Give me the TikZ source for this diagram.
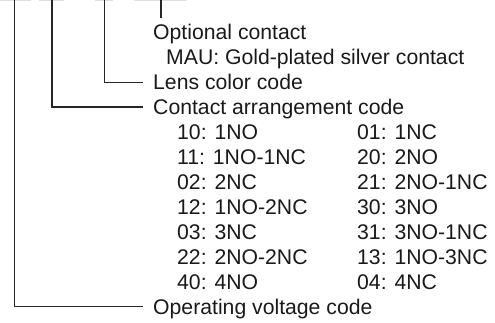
\documentclass[tikz,border=0pt]{standalone}
\usepackage{fontspec}
\setmainfont{Liberation Sans}
\begin{document}
\begin{tikzpicture}[x=1pt,y=-1pt,
  txt/.style={anchor=base west,inner sep=0pt,font=\fontsize{21.2}{25}\selectfont,text=black!90},
  lead/.style={line width=1.3pt,draw=black!85},
  stub/.style={line width=1.5pt,draw=black!12}]
\useasboundingbox (0,0) rectangle (495,323);
% faint remnants of the boxes above
\draw[stub] (0,0.7) -- (31,0.7);
\draw[stub] (39,0.7) -- (64,0.7);
\draw[stub] (95,0.7) -- (113,0.7);
\draw[stub] (134,0.7) -- (187,0.7);
% texts
\node[txt] (opt) at (153,39.7) {Optional contact};
\node[txt] (mau) at (166,64.6) {MAU: Gold-plated silver contact};
\node[txt] (lens) at (153,89.6) {Lens color code};
\node[txt] (cac) at (153,114.5) {Contact arrangement code};
\node[txt] (a1) at (177,139.5) {10: 1NO};
\node[txt] (b1) at (357,139.5) {01: 1NC};
\node[txt] (a2) at (177,164.4) {11: 1NO-1NC};
\node[txt] (b2) at (357,164.4) {20: 2NO};
\node[txt] (a3) at (177,189.3) {02: 2NC};
\node[txt] (b3) at (357,189.3) {21: 2NO-1NC};
\node[txt] (a4) at (177,214.3) {12: 1NO-2NC};
\node[txt] (b4) at (357,214.3) {30: 3NO};
\node[txt] (a5) at (177,239.2) {03: 3NC};
\node[txt] (b5) at (357,239.2) {31: 3NO-1NC};
\node[txt] (a6) at (177,264.1) {22: 2NO-2NC};
\node[txt] (b6) at (357,264.1) {13: 1NO-3NC};
\node[txt] (a7) at (177,289.1) {40: 4NO};
\node[txt] (b7) at (357,289.1) {04: 4NC};
\node[txt] (opv) at (153,314) {Operating voltage code};
% leader lines
\coordinate (t1) at (14.5,0);
\coordinate (t2) at (52,0);
\coordinate (t3) at (104.3,0);
\coordinate (t4) at (161,0);
\coordinate (e4) at (161,18);
\draw[lead] (t4) -- (e4);
\draw[lead] (t3) |- ([xshift=-10pt,yshift=7.4pt]lens.base west);
\draw[lead] (t2) |- ([xshift=-10pt,yshift=7.4pt]cac.base west);
\draw[lead] (t1) |- ([xshift=-10pt,yshift=7.4pt]opv.base west);
\end{tikzpicture}
\end{document}
